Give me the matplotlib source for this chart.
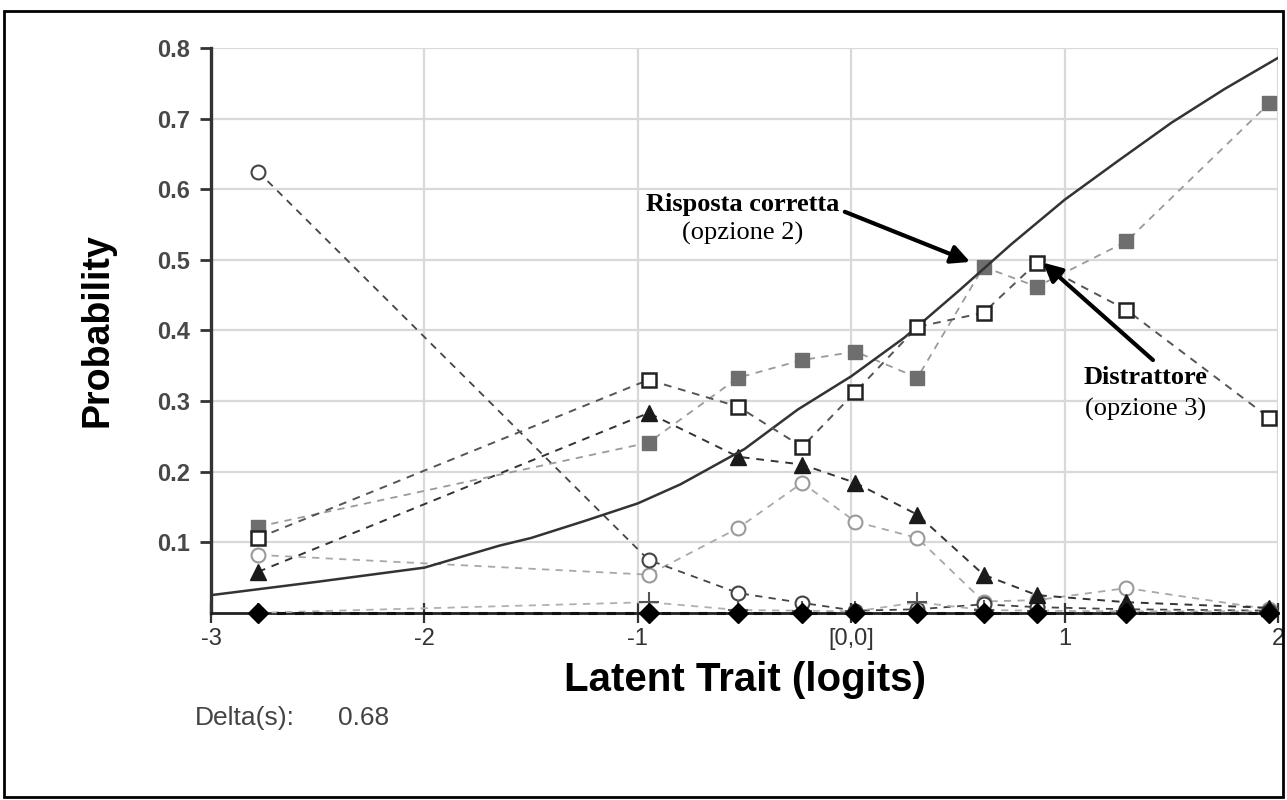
import matplotlib
matplotlib.use("Agg")
import matplotlib.pyplot as plt
from matplotlib.patches import Rectangle

plt.rcParams['font.family'] = ['Liberation Sans', 'DejaVu Sans']

# ability groups (logits)
theta = [-2.78, -0.95, -0.53, -0.23, 0.02, 0.31, 0.62, 0.87, 1.29, 1.96]

# empirical proportions per option
opt_correct = [0.122, 0.241, 0.333, 0.358, 0.370, 0.333, 0.490, 0.462, 0.526, 0.722]
opt_distr = [0.106, 0.330, 0.292, 0.235, 0.313, 0.405, 0.425, 0.496, 0.429, 0.276]
opt_tri = [0.058, 0.283, 0.221, 0.210, 0.184, 0.139, 0.054, 0.025, 0.015, 0.007]
opt_circ_dark = [0.625, 0.075, 0.028, 0.014, 0.003, 0.005, 0.012, 0.008, 0.005, 0.003]
opt_circ_light = [0.082, 0.054, 0.120, 0.184, 0.129, 0.106, 0.016, 0.018, 0.035, 0.005]
opt_plus = [0.000, 0.015, 0.004, 0.003, 0.002, 0.015, 0.004, 0.003, 0.002, 0.002]
opt_diam = [0.0, 0.0, 0.0, 0.0, 0.0, 0.0, 0.0, 0.0, 0.0, 0.0]

# model curve
curve_x = [-3, -2.5, -2, -1.65, -1.5, -1.25, -1, -0.8, -0.5, -0.25, 0, 0.25,
           0.5, 0.75, 1, 1.25, 1.5, 1.75, 2]
curve_y = [0.025, 0.044, 0.064, 0.095, 0.106, 0.13, 0.155, 0.182, 0.232, 0.288,
           0.335, 0.39, 0.455, 0.522, 0.585, 0.64, 0.694, 0.742, 0.786]

xticks = [-3, -2, -1, 0, 1, 2]
xtick_labels = ['-3', '-2', '-1', '[0,0]', '1', '2']
yticks = [0.1, 0.2, 0.3, 0.4, 0.5, 0.6, 0.7, 0.8]

fig = plt.figure(figsize=(12.87, 8), dpi=100)
ax = fig.add_axes([0.164, 0.234, 0.829, 0.706])

dash = (0, (4, 3.5))
ax.plot(theta, opt_circ_light, ls=dash, lw=1.3, color='#a8a8a8', marker='o', ms=10,
        mfc='white', mec='#9a9a9a', mew=1.5, zorder=3, clip_on=False)
ax.plot(theta, opt_circ_dark, ls=dash, lw=1.3, color='#444444', marker='o', ms=10,
        mfc='white', mec='#444444', mew=1.5, zorder=3, clip_on=False)
ax.plot(theta, opt_plus, ls=dash, lw=1.3, color='#b0b0b0', marker='+', ms=14,
        mec='#555555', mew=1.5, zorder=3, clip_on=False)
ax.plot(theta, opt_tri, ls=dash, lw=1.4, color='#333333', marker='^', ms=11,
        mfc='#1a1a1a', mec='#1a1a1a', zorder=4, clip_on=False)
ax.plot(theta, opt_correct, ls=dash, lw=1.3, color='#9a9a9a', marker='s', ms=10,
        mfc='#6e6e6e', mec='#6e6e6e', zorder=4, clip_on=False)
ax.plot(theta, opt_distr, ls=dash, lw=1.4, color='#555555', marker='s', ms=9.5,
        mfc='white', mec='#222222', mew=1.8, zorder=5, clip_on=False)
ax.plot(theta, opt_diam, ls=(0, (3, 3)), lw=2.2, color='#111111', marker='D', ms=10,
        mfc='black', mec='black', zorder=6, clip_on=False)
ax.plot(curve_x, curve_y, '-', lw=1.8, color='#333333', zorder=4)

ax.set_xlim(-3, 2)
ax.set_ylim(0, 0.8)
ax.set_xticks(xticks)
ax.set_xticklabels(xtick_labels)
ax.set_yticks(yticks)
ax.set_yticklabels(['%.1f' % v for v in yticks])
for lab in ax.get_yticklabels():
    lab.set_fontweight('bold')
ax.grid(True, color='#d9d9d9', lw=1.6, zorder=0)
ax.set_axisbelow(True)

for s in ['top', 'right']:
    ax.spines[s].set_visible(False)
ax.spines['left'].set_linewidth(2.4)
ax.spines['left'].set_color('#333333')
ax.spines['bottom'].set_linewidth(2)
ax.spines['bottom'].set_color('#222222')

ax.tick_params(axis='y', direction='out', length=8, width=2, color='#333333',
               labelsize=17, labelcolor='#484848', pad=7)
ax.tick_params(axis='x', direction='inout', length=14, width=1.6, color='#333333',
               labelsize=17, labelcolor='#333333', pad=4)

ax.set_xlabel('Latent Trait (logits)', fontsize=29, fontweight='bold', labelpad=8)
ax.set_ylabel('Probability', fontsize=27, fontweight='bold', labelpad=30)

serif = ['Liberation Serif', 'DejaVu Serif']
ax.annotate('', xy=(0.557, 0.497), xytext=(-0.03, 0.568),
            arrowprops=dict(arrowstyle='-|>', lw=3, color='black', mutation_scale=28,
                            shrinkA=0, shrinkB=0), zorder=8)
ax.text(-0.507, 0.579, 'Risposta corretta', family=serif, fontsize=19,
        fontweight='bold', ha='center', va='center', zorder=8)
ax.text(-0.507, 0.537, '(opzione 2)', family=serif, fontsize=19,
        ha='center', va='center', zorder=8)

ax.annotate('', xy=(0.899, 0.496), xytext=(1.414, 0.358),
            arrowprops=dict(arrowstyle='-|>', lw=3, color='black', mutation_scale=28,
                            shrinkA=0, shrinkB=0), zorder=8)
ax.text(1.381, 0.333, 'Distrattore', family=serif, fontsize=19,
        fontweight='bold', ha='center', va='center', zorder=8)
ax.text(1.381, 0.288, '(opzione 3)', family=serif, fontsize=19,
        ha='center', va='center', zorder=8)

fig.text(0.1515, 0.1025, 'Delta(s):', fontsize=19, color='#444444', va='center')
fig.text(0.263, 0.1025, '0.68', fontsize=19, color='#444444', va='center')

# outer frame
fig.patches.append(Rectangle((0.003, 0.004), 0.994, 0.982, transform=fig.transFigure,
                             fill=False, lw=2, ec='black'))

fig.savefig('out.png', dpi=100)
